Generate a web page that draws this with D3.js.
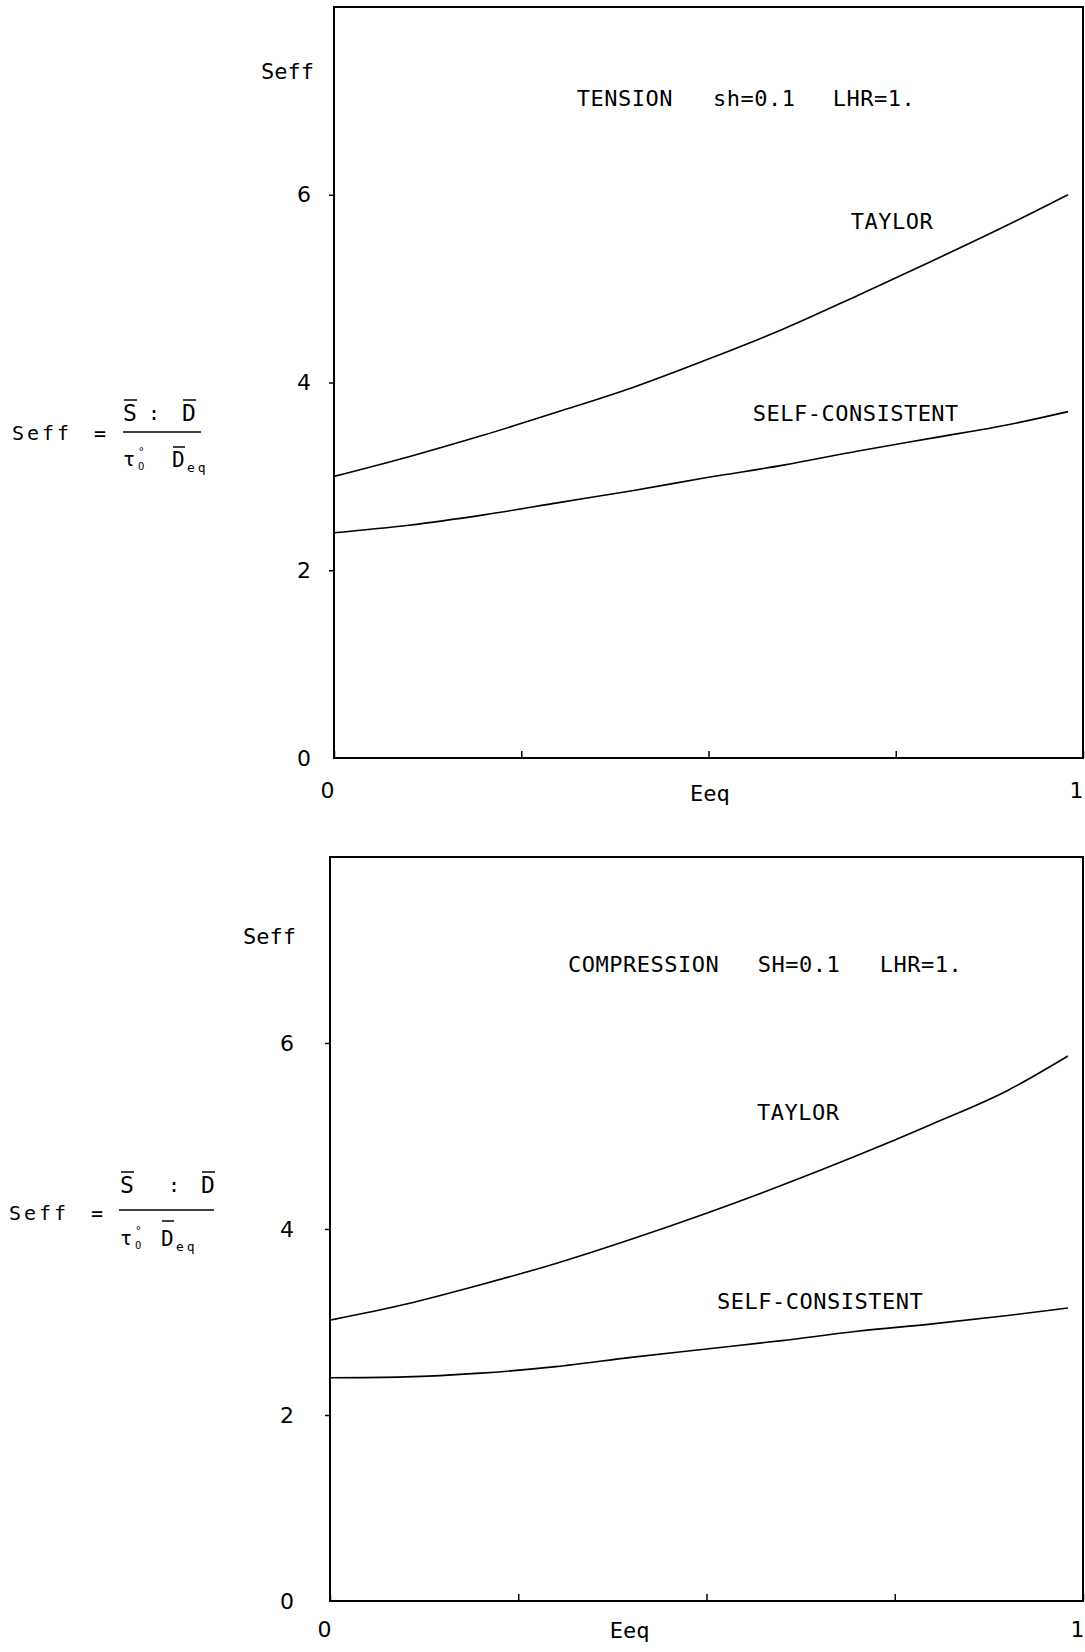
<!DOCTYPE html>
<html>
<head>
<meta charset="utf-8">
<script src="https://cdn.jsdelivr.net/npm/d3@7"></script>
<style>
body { margin: 0; background: #fff; }
svg text { font-family: 'DejaVu Sans Mono', monospace; fill: #000; }
svg text.num { font-family: 'DejaVu Sans', sans-serif; }
</style>
</head>
<body>
<div id="chart"></div>
<script>
// Eeq positions the curves were read at (both runs stop a little short of 1)
const X_VALUES = [0, 0.1, 0.2, 0.3, 0.4, 0.5, 0.6, 0.7, 0.8, 0.9, 0.98];

// Seff, tension run
const TENSION_TAYLOR = [3.00, 3.21, 3.44, 3.69, 3.95, 4.25, 4.57, 4.93, 5.30, 5.68, 6.00];
const TENSION_SC     = [2.40, 2.48, 2.59, 2.72, 2.85, 2.99, 3.12, 3.27, 3.41, 3.55, 3.69];

// Seff, compression run
const COMPRESSION_TAYLOR = [3.02, 3.19, 3.40, 3.63, 3.89, 4.17, 4.47, 4.79, 5.13, 5.49, 5.86];
const COMPRESSION_SC     = [2.40, 2.41, 2.45, 2.52, 2.62, 2.71, 2.80, 2.90, 2.98, 3.07, 3.15];

// axes
const X_DOMAIN = [0, 1];
const Y_DOMAIN = [0, 8];
const X_TICKS = [0, 0.25, 0.5, 0.75, 1];
const X_LABELED = [0, 1];
const Y_TICKS = [0, 2, 4, 6];

// texts
const TENSION_TITLE = ['TENSION', 'sh=0.1', 'LHR=1.'];
const COMPRESSION_TITLE = ['COMPRESSION', 'SH=0.1', 'LHR=1.'];
const SERIES_NAMES = ['TAYLOR', 'SELF-CONSISTENT'];

const W = 1085, H = 1652;
const FS = 22;

const svg = d3.select('#chart').append('svg')
    .attr('width', W).attr('height', H)
    .style('background', '#fff');

// 兩張圖的版面設定 (像素位置只放這裡)
const panels = [
    {
        box: { left: 334, top: 7, right: 1083, bottom: 758 },
        title: TENSION_TITLE, titleX: [0.324, 0.506, 0.666], titleY: 7.03,
        series: [TENSION_TAYLOR, TENSION_SC],
        seriesLabel: [[0.690, 5.72], [0.559, 3.675]],
        yLabelX: -30, xPad: 24, xLabelDx: -7,
        seffDx: -73, seffY: 7.32,
        eeqX: 0.502, eeqDy: 35
    },
    {
        box: { left: 330, top: 857, right: 1083, bottom: 1601 },
        title: COMPRESSION_TITLE, titleX: [0.316, 0.568, 0.730], titleY: 6.85,
        series: [COMPRESSION_TAYLOR, COMPRESSION_SC],
        seriesLabel: [[0.567, 5.26], [0.514, 3.23]],
        yLabelX: -43, xPad: 20, xLabelDx: -6,
        seffDx: -87, seffY: 7.155,
        eeqX: 0.398, eeqDy: 29
    }
];

const formulas = [
    { x: 12, y: 433, sX: 111, colonX: 142, dX: 170, numY: -20, barY: -33,
      lineX: [111, 189], lineY: -1, tauX: 111, denY: 26, dDenX: 160, denBarY: 14 },
    { x: 9, y: 1213, sX: 111, colonX: 165, dX: 192, numY: -28, barY: -41,
      lineX: [110, 205], lineY: -3, tauX: 111, denY: 25, dDenX: 152, denBarY: 8 }
];

function drawPanel(p) {
    const x = d3.scaleLinear().domain(X_DOMAIN).range([p.box.left, p.box.right]);
    const y = d3.scaleLinear().domain(Y_DOMAIN).range([p.box.bottom, p.box.top]);
    const g = svg.append('g');

    // frame
    g.append('rect')
        .attr('x', x(0)).attr('y', y(8))
        .attr('width', x(1) - x(0)).attr('height', y(0) - y(8))
        .attr('fill', 'none').attr('stroke', '#000').attr('stroke-width', 2);

    // x axis: short ticks pointing up, labels only at the ends
    const xAxis = d3.axisBottom(x).tickValues(X_TICKS)
        .tickSizeInner(-7).tickSizeOuter(0).tickPadding(p.xPad)
        .tickFormat(d => X_LABELED.includes(d) ? d3.format('d')(d) : '');
    const xg = g.append('g').attr('transform', `translate(0,${y(0)})`).call(xAxis)
        .attr('font-size', FS).attr('font-family', null);
    xg.select('.domain').remove();
    xg.selectAll('line').attr('stroke-width', 1.5);
    xg.selectAll('text').attr('class', 'num').attr('dx', p.xLabelDx);

    // y axis: ticks pointing out
    const yAxis = d3.axisLeft(y).tickValues(Y_TICKS)
        .tickSizeInner(5).tickSizeOuter(0)
        .tickFormat(d3.format('d'));
    const yg = g.append('g').attr('transform', `translate(${x(0)},0)`).call(yAxis)
        .attr('font-size', FS).attr('font-family', null);
    yg.select('.domain').remove();
    yg.selectAll('line').attr('stroke-width', 1.5);
    yg.selectAll('.tick').filter(d => d === 0).select('line').remove();
    yg.selectAll('text').attr('class', 'num').attr('x', p.yLabelX).attr('text-anchor', 'middle');

    // axis names
    g.append('text').attr('x', x(0) + p.seffDx).attr('y', y(p.seffY)).attr('dy', '0.36em')
        .style('font-size', FS + 'px').text('Seff');
    g.append('text').attr('x', x(p.eeqX)).attr('y', y(0) + p.eeqDy).attr('dy', '0.36em')
        .attr('text-anchor', 'middle').style('font-size', FS + 'px').text('Eeq');

    // curves
    const lineGen = d3.line()
        .x((d, i) => x(X_VALUES[i]))
        .y(d => y(d))
        .curve(d3.curveMonotoneX);
    g.selectAll('.series').data(p.series).join('path')
        .attr('class', 'series')
        .attr('d', lineGen)
        .attr('fill', 'none').attr('stroke', '#000').attr('stroke-width', 1.6);

    // run description
    g.selectAll('.title').data(p.title).join('text')
        .attr('class', 'title')
        .attr('x', (d, i) => x(p.titleX[i])).attr('y', y(p.titleY)).attr('dy', '0.36em')
        .style('font-size', FS + 'px').style('letter-spacing', '0.5px')
        .text(d => d);

    // curve names
    g.selectAll('.series-label').data(SERIES_NAMES).join('text')
        .attr('class', 'series-label')
        .attr('x', (d, i) => x(p.seriesLabel[i][0])).attr('y', (d, i) => y(p.seriesLabel[i][1]))
        .attr('dy', '0.36em')
        .style('font-size', FS + 'px').style('letter-spacing', '0.5px')
        .text(d => d);
}

function drawFormula(f) {
    const g = svg.append('g').attr('transform', `translate(${f.x},${f.y})`);
    const txt = (x, y, s, size, anchor) => g.append('text')
        .attr('x', x).attr('y', y).attr('dy', '0.36em')
        .attr('text-anchor', anchor || 'start')
        .style('font-size', size + 'px').text(s);
    const bar = (x0, x1, yy) => g.append('line')
        .attr('x1', x0).attr('x2', x1).attr('y1', yy).attr('y2', yy)
        .attr('stroke', '#000').attr('stroke-width', 1.5);

    txt(0, 0, 'Seff', 20).style('letter-spacing', '3px');
    txt(88, 0, '=', 20, 'middle');
    // numerator
    txt(f.sX, f.numY, 'S', 23);
    txt(f.colonX, f.numY, ':', 20, 'middle');
    txt(f.dX, f.numY, 'D', 23);
    bar(f.sX + 1, f.sX + 14, f.barY);
    bar(f.dX + 1, f.dX + 14, f.barY);
    // fraction bar
    bar(f.lineX[0], f.lineX[1], f.lineY);
    // denominator: tau with a small circle above and 0 below
    txt(f.tauX, f.denY, 'τ', 20);
    txt(f.tauX + 15, f.denY - 8, '°', 11);
    txt(f.tauX + 15, f.denY + 7, '0', 10).attr('class', 'num');
    txt(f.dDenX, f.denY, 'D', 21);
    bar(f.dDenX + 1, f.dDenX + 13, f.denBarY);
    txt(f.dDenX + 15, f.denY + 8, 'eq', 13).style('letter-spacing', '3px');
}

panels.forEach(drawPanel);
formulas.forEach(drawFormula);
</script>
</body>
</html>
